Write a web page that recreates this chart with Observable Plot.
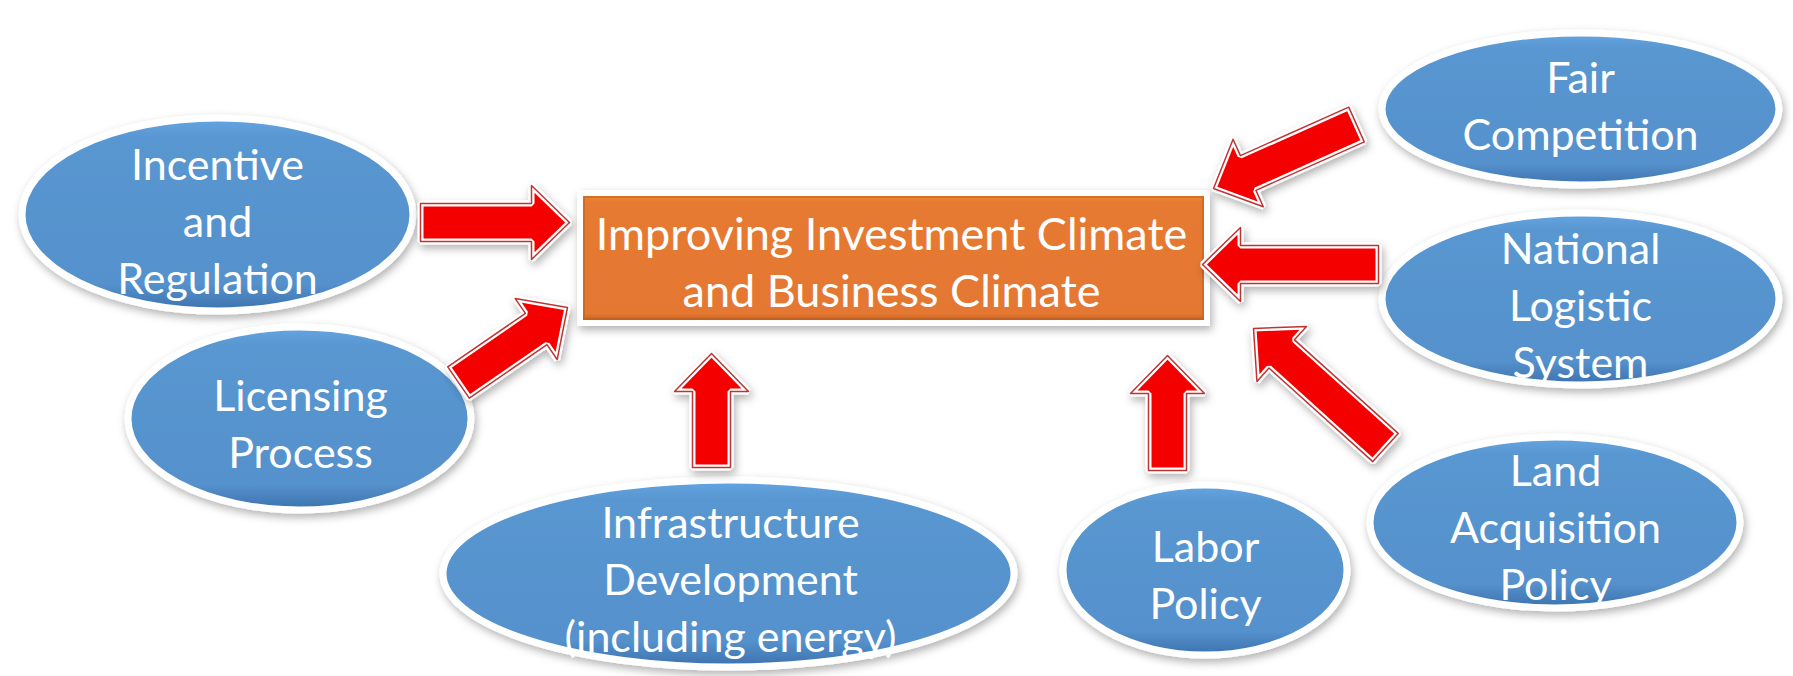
<!DOCTYPE html>
<html>
<head>
<meta charset="utf-8">
<script src="https://cdn.jsdelivr.net/npm/d3@7"></script>
<script src="https://cdn.jsdelivr.net/npm/@observablehq/plot@0.6"></script>
<style>
  html, body { margin: 0; padding: 0; background: #ffffff; }
  #chart svg { display: block; }
</style>
</head>
<body>
<div id="chart"></div>
<script>
// ---- Data (diagram space, 1793 x 676 units) ----
const nodeLabels = [
  "Incentive\nand\nRegulation",
  "Licensing\nProcess",
  "Infrastructure\nDevelopment\n(including energy)",
  "Labor\nPolicy",
  "Land\nAcquisition\nPolicy",
  "National\nLogistic\nSystem",
  "Fair\nCompetition"
];
const nodeLeft   = [22, 128, 443, 1063, 1370, 1382, 1382];
const nodeRight  = [413, 471, 1014, 1347, 1740, 1779, 1779];
const nodeTop    = [118, 327, 480, 485, 437, 213, 33];
const nodeBottom = [311, 510, 667, 655, 608, 385, 185];
const labelX = [217, 300, 730, 1205, 1555, 1580, 1580];
const labelY = [218, 421, 576, 572, 524, 302, 103];

const hubLabel = ["Improving Investment Climate\nand Business Climate"];
const hubLeft = [580], hubRight = [1207], hubTop = [193], hubBottom = [323];
const hubLabelX = [891], hubLabelY = [260];

const arrowFromX = [420, 458, 711, 1167, 1385, 1378, 1356];
const arrowFromY = [222, 382, 467, 470, 447, 264, 124];
const arrowToX   = [569, 567, 711, 1167, 1253, 1202, 1213];
const arrowToY   = [222, 307, 353, 355, 328, 264, 188];

// ---- Build tables ----
const nodes = nodeLabels.map((label, i) => ({
  label, x1: nodeLeft[i], x2: nodeRight[i], y1: nodeTop[i], y2: nodeBottom[i],
  lx: labelX[i], ly: labelY[i]
}));
const hub = hubLabel.map((label, i) => ({
  label, x1: hubLeft[i], x2: hubRight[i], y1: hubTop[i], y2: hubBottom[i],
  lx: hubLabelX[i], ly: hubLabelY[i]
}));

// block-arrow outline from tail/tip
const shaftHalf = 19, headHalf = 37, headLen = 38;
const arrowPts = [];
arrowFromX.forEach((_, i) => {
  const ax = arrowFromX[i], ay = arrowFromY[i], bx = arrowToX[i], by = arrowToY[i];
  const L = Math.hypot(bx - ax, by - ay);
  const ux = (bx - ax) / L, uy = (by - ay) / L;
  const nx = -uy, ny = ux;
  const cx = bx - ux * headLen, cy = by - uy * headLen;
  const pts = [
    [ax + nx * shaftHalf, ay + ny * shaftHalf],
    [cx + nx * shaftHalf, cy + ny * shaftHalf],
    [cx + nx * headHalf, cy + ny * headHalf],
    [bx, by],
    [cx - nx * headHalf, cy - ny * headHalf],
    [cx - nx * shaftHalf, cy - ny * shaftHalf],
    [ax - nx * shaftHalf, ay - ny * shaftHalf]
  ];
  pts.forEach(([x, y], k) => arrowPts.push({id: i, k, x, y}));
});

const font = "Lato, 'Open Sans', sans-serif";

const chart = Plot.plot({
  width: 1793,
  height: 676,
  margin: 0,
  x: {domain: [0, 1793], range: [0, 1793], axis: null},
  y: {domain: [0, 676], range: [0, 676], axis: null},
  style: {background: "#ffffff", fontFamily: font},
  marks: [
    // ellipses (rects with maximal corner radii)
    Plot.rect(nodes, {
      x1: "x1", x2: "x2", y1: "y1", y2: "y2",
      rx: 2000, ry: 2000,
      fill: "url(#blueGrad)", stroke: "#ffffff", strokeWidth: 7
    }),
    // hub box
    Plot.rect(hub, {
      x1: "x1", x2: "x2", y1: "y1", y2: "y2",
      fill: "url(#orangeGrad)", stroke: "#ffffff", strokeWidth: 6
    }),
    Plot.rect(hub, {
      x1: "x1", x2: "x2", y1: "y1", y2: "y2", inset: 4,
      fill: "none", stroke: "#c0601f", strokeWidth: 2, strokeOpacity: 0.6
    }),
    // block arrows
    Plot.line(arrowPts, {
      x: "x", y: "y", z: "id", curve: "linear-closed",
      fill: "#f40000", stroke: "#ffffff", strokeWidth: 6, strokeLinejoin: "miter"
    }),
    Plot.line(arrowPts, {
      x: "x", y: "y", z: "id", curve: "linear-closed",
      fill: "none", stroke: "#b00000", strokeWidth: 1.5, strokeOpacity: 0.8
    }),
    // labels
    Plot.text(nodes, {
      x: "lx", y: "ly", text: "label", fill: "#ffffff",
      fontSize: 43, lineHeight: 1.33, fontFamily: font
    }),
    Plot.text(hub, {
      x: "lx", y: "ly", text: "label", fill: "#ffffff",
      fontSize: 45, lineHeight: 1.27, fontFamily: font
    })
  ]
});

// decorative gradients and soft shadows
const svg = d3.select(chart);
const defs = svg.insert("defs", ":first-child");
const bg = defs.append("linearGradient").attr("id", "blueGrad")
  .attr("x1", 0).attr("y1", 0).attr("x2", 0).attr("y2", 1);
bg.append("stop").attr("offset", "0%").attr("stop-color", "#64a5e3");
bg.append("stop").attr("offset", "10%").attr("stop-color", "#5997d1");
bg.append("stop").attr("offset", "86%").attr("stop-color", "#5591cc");
bg.append("stop").attr("offset", "100%").attr("stop-color", "#3c72ae");
const og = defs.append("linearGradient").attr("id", "orangeGrad")
  .attr("x1", 0).attr("y1", 0).attr("x2", 0).attr("y2", 1);
og.append("stop").attr("offset", "0%").attr("stop-color", "#f88a36");
og.append("stop").attr("offset", "7%").attr("stop-color", "#e67a31");
og.append("stop").attr("offset", "93%").attr("stop-color", "#e47830");
og.append("stop").attr("offset", "100%").attr("stop-color", "#b5571b");
const f = defs.append("filter").attr("id", "shadow")
  .attr("x", "-20%").attr("y", "-20%").attr("width", "140%").attr("height", "140%");
f.append("feDropShadow").attr("dx", 2).attr("dy", 4).attr("stdDeviation", 4)
  .attr("flood-color", "#000").attr("flood-opacity", 0.3);

svg.selectAll("g[aria-label='rect'], g[aria-label='line']")
  .each(function() {
    const g = d3.select(this);
    if (g.attr("fill") === "none") return;
    g.selectAll("rect, path").attr("filter", "url(#shadow)");
  });

document.getElementById("chart").appendChild(chart);
</script>
</body>
</html>
